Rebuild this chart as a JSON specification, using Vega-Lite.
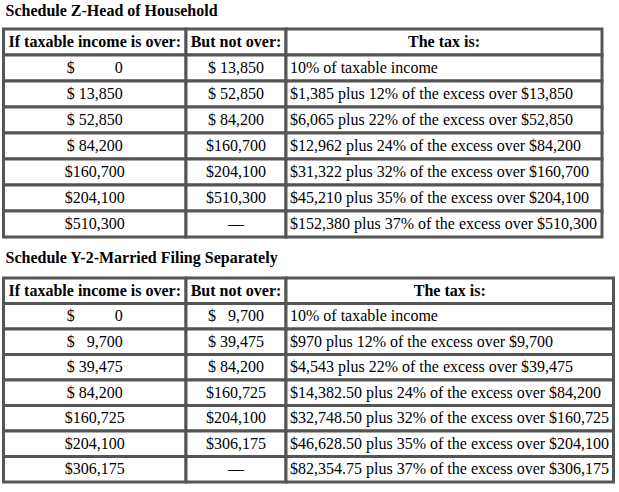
{
  "$schema": "https://vega.github.io/schema/vega-lite/v6.json",
  "padding": {"left": 1.5, "top": 2, "right": 0, "bottom": 0},
  "background": "white",
  "spacing": 10,
  "config": {
    "view": {"stroke": null},
    "font": "Liberation Serif",
    "title": {"font": "Liberation Serif", "fontSize": 16, "fontWeight": "bold", "anchor": "start", "frame": "group", "color": "black", "baseline": "alphabetic", "offset": 9},
    "text": {"font": "Liberation Serif", "fontSize": 16, "color": "black", "baseline": "middle"},
    "rect": {"fill": "white", "stroke": "#555555", "strokeWidth": 3}
  },
  "datasets": {
    "z": [
      {"r": 0, "over": "If taxable income is over:", "notOver": "But not over:", "tax": "The tax is:"},
      {"r": 1, "over": "$\u00a0\u00a0\u00a0\u00a0\u00a0\u00a0\u00a0\u00a0\u00a0\u00a00", "notOver": "$\u00a013,850", "tax": "10% of taxable income"},
      {"r": 2, "over": "$\u00a013,850", "notOver": "$\u00a052,850", "tax": "$1,385 plus 12% of the excess over $13,850"},
      {"r": 3, "over": "$\u00a052,850", "notOver": "$\u00a084,200", "tax": "$6,065 plus 22% of the excess over $52,850"},
      {"r": 4, "over": "$\u00a084,200", "notOver": "$160,700", "tax": "$12,962 plus 24% of the excess over $84,200"},
      {"r": 5, "over": "$160,700", "notOver": "$204,100", "tax": "$31,322 plus 32% of the excess over $160,700"},
      {"r": 6, "over": "$204,100", "notOver": "$510,300", "tax": "$45,210 plus 35% of the excess over $204,100"},
      {"r": 7, "over": "$510,300", "notOver": "—", "tax": "$152,380 plus 37% of the excess over $510,300"}
    ],
    "y2": [
      {"r": 0, "over": "If taxable income is over:", "notOver": "But not over:", "tax": "The tax is:"},
      {"r": 1, "over": "$\u00a0\u00a0\u00a0\u00a0\u00a0\u00a0\u00a0\u00a0\u00a0\u00a00", "notOver": "$\u00a0\u00a0\u00a09,700", "tax": "10% of taxable income"},
      {"r": 2, "over": "$\u00a0\u00a0\u00a09,700", "notOver": "$\u00a039,475", "tax": "$970 plus 12% of the excess over $9,700"},
      {"r": 3, "over": "$\u00a039,475", "notOver": "$\u00a084,200", "tax": "$4,543 plus 22% of the excess over $39,475"},
      {"r": 4, "over": "$\u00a084,200", "notOver": "$160,725", "tax": "$14,382.50 plus 24% of the excess over $84,200"},
      {"r": 5, "over": "$160,725", "notOver": "$204,100", "tax": "$32,748.50 plus 32% of the excess over $160,725"},
      {"r": 6, "over": "$204,100", "notOver": "$306,175", "tax": "$46,628.50 plus 35% of the excess over $204,100"},
      {"r": 7, "over": "$306,175", "notOver": "—", "tax": "$82,354.75 plus 37% of the excess over $306,175"}
    ]
  },
  "vconcat": [
    {
      "title": {"text": "Schedule Z-Head of Household", "dx": 2},
      "width": 598.5,
      "height": 208,
      "data": {"name": "z"},
      "encoding": {
        "y": {"field": "r", "type": "ordinal", "scale": {"paddingInner": 0, "paddingOuter": 0}, "axis": null}
      },
      "layer": [
        {"mark": "rect", "encoding": {"x": {"datum": 0, "type": "quantitative", "scale": {"type": "linear", "domain": [0, 1, 2, 3], "range": [0, 182.5, 282.5, 598.5], "nice": false, "zero": false}, "axis": null}, "x2": {"datum": 1}}},
        {"mark": "rect", "encoding": {"x": {"datum": 1, "type": "quantitative"}, "x2": {"datum": 2}}},
        {"mark": "rect", "encoding": {"x": {"datum": 2, "type": "quantitative"}, "x2": {"datum": 3}}},
        {"transform": [{"filter": "datum.r === 0"}], "mark": {"type": "text", "fontWeight": "bold", "align": "center"}, "encoding": {"x": {"datum": 0.5, "type": "quantitative"}, "text": {"field": "over"}}},
        {"transform": [{"filter": "datum.r === 0"}], "mark": {"type": "text", "fontWeight": "bold", "align": "center"}, "encoding": {"x": {"datum": 1.5, "type": "quantitative"}, "text": {"field": "notOver"}}},
        {"transform": [{"filter": "datum.r === 0"}], "mark": {"type": "text", "fontWeight": "bold", "align": "center"}, "encoding": {"x": {"datum": 2.5, "type": "quantitative"}, "text": {"field": "tax"}}},
        {"transform": [{"filter": "datum.r > 0"}], "mark": {"type": "text", "align": "center"}, "encoding": {"x": {"datum": 0.5, "type": "quantitative"}, "text": {"field": "over"}}},
        {"transform": [{"filter": "datum.r > 0"}], "mark": {"type": "text", "align": "center"}, "encoding": {"x": {"datum": 1.5, "type": "quantitative"}, "text": {"field": "notOver"}}},
        {"transform": [{"filter": "datum.r > 0"}], "mark": {"type": "text", "align": "left", "dx": 4}, "encoding": {"x": {"datum": 2, "type": "quantitative"}, "text": {"field": "tax"}}}
      ]
    },
    {
      "title": {"text": "Schedule Y-2-Married Filing Separately", "dx": 2, "offset": 11},
      "width": 610,
      "height": 204,
      "data": {"name": "y2"},
      "encoding": {
        "y": {"field": "r", "type": "ordinal", "scale": {"paddingInner": 0, "paddingOuter": 0}, "axis": null}
      },
      "layer": [
        {"mark": "rect", "encoding": {"x": {"datum": 0, "type": "quantitative", "scale": {"type": "linear", "domain": [0, 1, 2, 3], "range": [0, 182.5, 282.5, 610], "nice": false, "zero": false}, "axis": null}, "x2": {"datum": 1}}},
        {"mark": "rect", "encoding": {"x": {"datum": 1, "type": "quantitative"}, "x2": {"datum": 2}}},
        {"mark": "rect", "encoding": {"x": {"datum": 2, "type": "quantitative"}, "x2": {"datum": 3}}},
        {"transform": [{"filter": "datum.r === 0"}], "mark": {"type": "text", "fontWeight": "bold", "align": "center"}, "encoding": {"x": {"datum": 0.5, "type": "quantitative"}, "text": {"field": "over"}}},
        {"transform": [{"filter": "datum.r === 0"}], "mark": {"type": "text", "fontWeight": "bold", "align": "center"}, "encoding": {"x": {"datum": 1.5, "type": "quantitative"}, "text": {"field": "notOver"}}},
        {"transform": [{"filter": "datum.r === 0"}], "mark": {"type": "text", "fontWeight": "bold", "align": "center"}, "encoding": {"x": {"datum": 2.5, "type": "quantitative"}, "text": {"field": "tax"}}},
        {"transform": [{"filter": "datum.r > 0"}], "mark": {"type": "text", "align": "center"}, "encoding": {"x": {"datum": 0.5, "type": "quantitative"}, "text": {"field": "over"}}},
        {"transform": [{"filter": "datum.r > 0"}], "mark": {"type": "text", "align": "center"}, "encoding": {"x": {"datum": 1.5, "type": "quantitative"}, "text": {"field": "notOver"}}},
        {"transform": [{"filter": "datum.r > 0"}], "mark": {"type": "text", "align": "left", "dx": 4}, "encoding": {"x": {"datum": 2, "type": "quantitative"}, "text": {"field": "tax"}}}
      ]
    }
  ]
}
